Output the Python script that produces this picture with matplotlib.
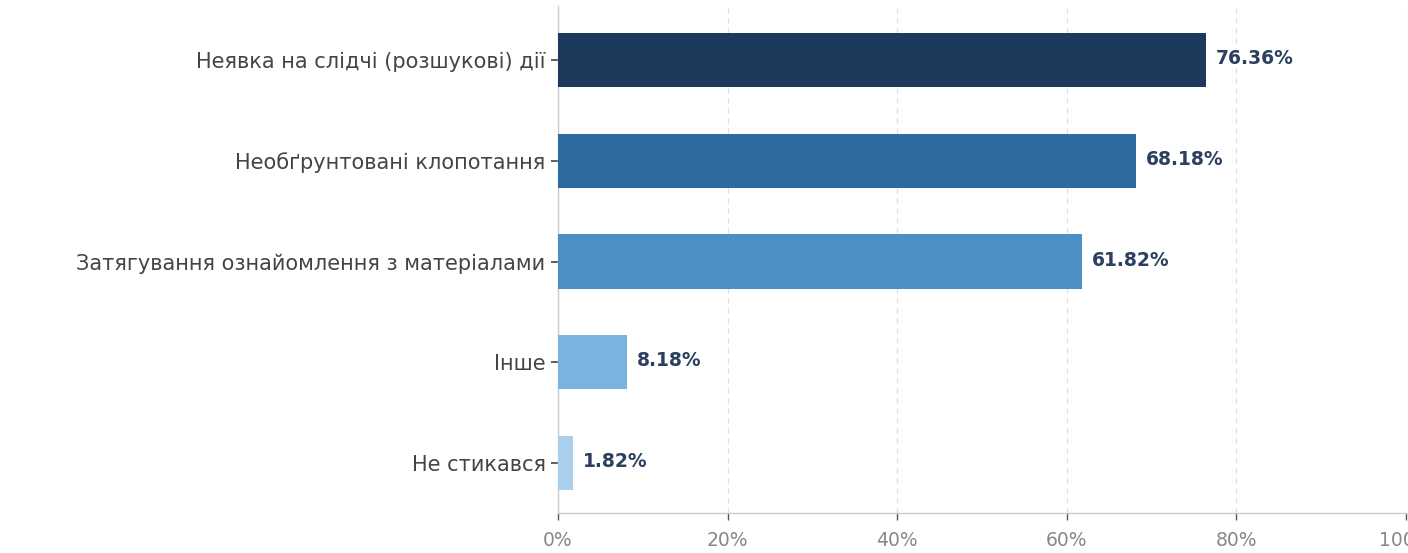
import matplotlib
matplotlib.use("Agg")
import matplotlib.pyplot as plt

categories = [
    "Неявка на слідчі (розшукові) дії",
    "Необґрунтовані клопотання",
    "Затягування ознайомлення з матеріалами",
    "Інше",
    "Не стикався",
]
values = [76.36, 68.18, 61.82, 8.18, 1.82]
colors = ["#1b3a5c", "#2c6aa0", "#4a8fc6", "#7ab4de", "#a8d0ee"]
xticks = [0, 20, 40, 60, 80, 100]
xtick_labels = ["0%", "20%", "40%", "60%", "80%", "100%"]

plt.rcParams["font.family"] = ["DejaVu Sans"]

fig = plt.figure(figsize=(14.08, 5.53), dpi=100)
ax = fig.add_axes([558 / 1408, 1 - 513 / 553, (1406 - 558) / 1408, (513 - 6) / 553])

ypos = list(range(len(categories)))
ax.barh(ypos, values, height=0.54, color=colors, zorder=3)

for y, v in zip(ypos, values):
    ax.annotate(f"{v:.2f}%", xy=(v, y), xytext=(7, 1), textcoords="offset points",
                va="center", ha="left", fontsize=13.5, fontweight="bold",
                color="#2b3f5e", zorder=4)

ax.set_yticks(ypos)
ax.set_yticklabels(categories, fontsize=15, color="#444444")
ax.set_ylim(4.5, -0.54)
ax.set_xlim(0, 100)
ax.set_xticks(xticks)
ax.set_xticklabels(xtick_labels, fontsize=13.5, color="#888888")

ax.grid(axis="x", linestyle=(0, (4, 4)), color="#dddddd", linewidth=0.9, zorder=0)
ax.grid(axis="y", visible=False)
for side in ["top", "right"]:
    ax.spines[side].set_visible(False)
for side in ["left", "bottom"]:
    ax.spines[side].set_color("#cccccc")
    ax.spines[side].set_linewidth(1.0)
ax.tick_params(axis="y", length=5, width=1.2, color="#444444", pad=4)
ax.tick_params(axis="x", length=5, width=1.0, color="#555555", pad=8)

fig.savefig("out.png", dpi=100)
